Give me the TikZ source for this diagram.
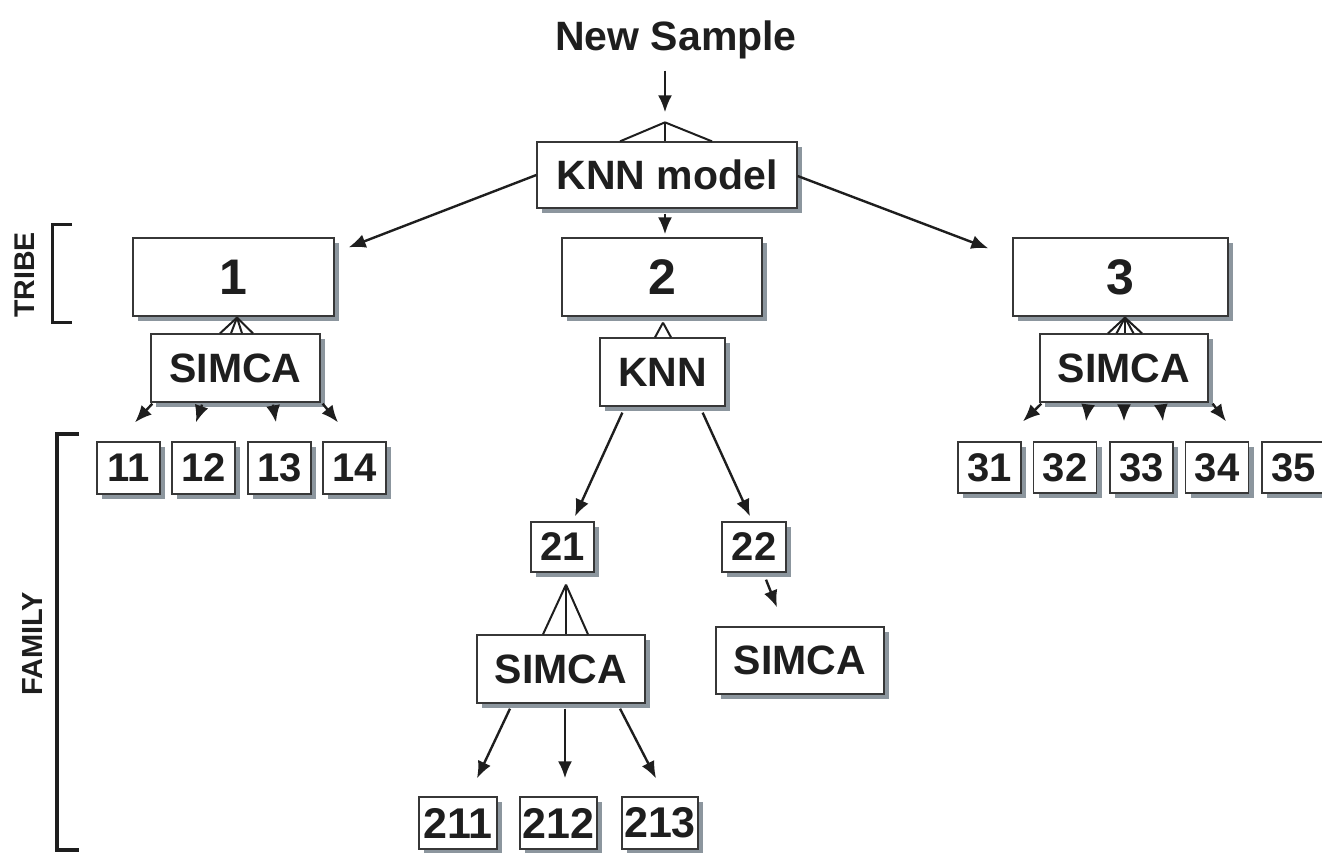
\documentclass[tikz,border=0pt]{standalone}
\usepackage{fontspec}
\setmainfont{Liberation Sans}
\usetikzlibrary{arrows.meta,calc,shadows}
\definecolor{ink}{RGB}{30,30,30}
\definecolor{boxline}{RGB}{55,55,55}
\definecolor{shade}{RGB}{140,150,158}
\tikzset{
  bx/.style={draw=boxline, line width=1.3pt, fill=white, inner sep=0pt, text=ink,
    general shadow={fill=shade, shadow xshift=5pt, shadow yshift=-5pt}},
  lbl/.style={font=\fontsize{41}{41}\selectfont\bfseries},
  big/.style={font=\fontsize{50}{50}\selectfont\bfseries},
  fam/.style={font=\fontsize{40}{40}\selectfont\bfseries},
  famw/.style={font=\fontsize{43}{43}\selectfont\bfseries},
  arr/.style={-{Latex[length=17pt,width=14pt]}, line width=2.4pt, draw=ink},
  fan/.style={line width=2pt, draw=ink},
  brk/.style={line width=3pt, draw=ink},
}
\begin{document}
\begin{tikzpicture}[x=1pt,y=-1pt]
\useasboundingbox (0,0) rectangle (1322,852);

% title and root model
\node[lbl, text=ink, anchor=base, inner sep=0pt] (ns) at (676,50) {New Sample};
\node[bx, lbl, minimum width=260pt, minimum height=66pt] (knnm) at (667,175) {KNN model};

% tribe level
\node[bx, big, minimum width=201pt, minimum height=78pt] (t1) at (233.5,277) {1};
\node[bx, big, minimum width=200pt, minimum height=78pt] (t2) at (662,277) {2};
\node[bx, big, minimum width=215pt, minimum height=78pt] (t3) at (1120.5,277) {3};

% classifiers under each tribe
\node[bx, lbl, minimum width=169pt, minimum height=68pt] (s1) at (235.5,368) {SIMCA};
\node[bx, lbl, minimum width=125pt, minimum height=68pt] (k2) at (662.5,372) {KNN};
\node[bx, lbl, minimum width=168pt, minimum height=68pt] (s3) at (1124,368) {SIMCA};

% family level, tribe 1
\foreach \n/\x in {11/128.5,12/203.5,13/279.5,14/354.5}
  \node[bx, fam, minimum width=63pt, minimum height=52pt] (f\n) at (\x,468) {\n};
% family level, tribe 3
\foreach \n/\x in {31/989.5,32/1065,33/1141.5,34/1217,35/1293.5}
  \node[bx, fam, minimum width=63pt, minimum height=51pt] (f\n) at (\x,467.5) {\n};
% family level, tribe 2
\node[bx, fam, minimum width=63pt, minimum height=50pt] (f21) at (562.5,547) {21};
\node[bx, fam, minimum width=64pt, minimum height=50pt] (f22) at (754,547) {22};
\node[bx, lbl, minimum width=168pt, minimum height=68pt] (s21) at (561,669) {SIMCA};
\node[bx, lbl, minimum width=168pt, minimum height=67pt] (s22) at (800,660.5) {SIMCA};
\node[bx, famw, minimum width=78pt, minimum height=52pt] (g211) at (458,823) {211};
\node[bx, famw, minimum width=77pt, minimum height=52pt] (g212) at (558.5,823) {212};
\node[bx, famw, minimum width=76pt, minimum height=52pt] (g213) at (660,823) {213};

% fans joining a model to its parent
\coordinate (a0) at ($(knnm.north)+(-2,-19)$);
\foreach \d in {-47,-2,45}
  \draw[fan] (a0) -- ($(knnm.north)+(\d,0)$);
\coordinate (a1) at ($(t1.south)+(3.5,1)$);
\foreach \d in {-15.5,-4.5,6.5,17.5}
  \draw[fan] (a1) -- ($(s1.north)+(\d,0)$);
\coordinate (a3) at ($(t3.south)+(4.5,1)$);
\foreach \d in {-16,-7.5,1,9.5,18}
  \draw[fan] (a3) -- ($(s3.north)+(\d,0)$);
\coordinate (a2) at ($(t2.south)+(1,6)$);
\foreach \d in {-7.5,8.5}
  \draw[fan] (a2) -- ($(k2.north)+(\d,0)$);
\coordinate (a21) at ($(f21.south)+(3.5,12)$);
\foreach \d in {-18,5,27}
  \draw[fan] (a21) -- ($(s21.north)+(\d,0)$);

% arrows
\draw[arr] ($(ns.south -| a0)+(0,12)$) -- ($(a0)+(0,-10)$);
\draw[arr] (knnm.west) -- ($(t1.north east)+(14,10)$);
\draw[arr] ($(knnm.east)+(0,1)$) -- ($(t3.north west)+(-24,11)$);
\draw[arr] ($(knnm.south)+(-2,5)$) -- ($(t2.north)+(3,-3)$);

\draw[arr] ($(s1.south west)+(2,1)$) -- ($(f11.north)+(6.5,-19)$);
\draw[arr] ($(s1.south)+(-33.5,2)$) -- ($(f12.north)+(-7.5,-19)$);
\draw[arr] ($(s1.south)+(37.5,2)$) -- ($(f13.north)+(-3.5,-19)$);
\draw[arr] ($(s1.south east)+(2,1)$) -- ($(f14.north)+(-16.5,-19)$);

\draw[arr] ($(s3.south west)+(2,1)$) -- ($(f31.north)+(33.5,-20)$);
\draw[arr] ($(s3.south)+(-36,3)$) -- ($(f32.north)+(21,-20)$);
\draw[arr] ($(s3.south)+(0,3)$) -- ($(f33.north)+(-17.5,-20)$);
\draw[arr] ($(s3.south)+(37,3)$) -- ($(f34.north)+(-54,-20)$);
\draw[arr] ($(s3.south east)+(4,1)$) -- ($(f35.north)+(-67.5,-20)$);

\draw[arr] ($(k2.south west)+(23,6)$) -- ($(f21.north)+(12.5,-5)$);
\draw[arr] ($(k2.south east)+(-23,6)$) -- ($(f22.north)+(-4,-5)$);
\draw[arr] ($(f22.south)+(12,7)$) -- ($(s22.north)+(-23,-19)$);

\draw[arr] ($(s21.south)+(-51,5)$) -- ($(g211.north)+(19,-18)$);
\draw[arr] ($(s21.south)+(4,5)$) -- ($(g212.north)+(6.5,-18)$);
\draw[arr] ($(s21.south)+(59,5)$) -- ($(g213.north)+(-4,-18)$);

% level brackets
\draw[brk] (72,224) -- (52,224) -- (52,322) -- (72,322);
\draw[brk, line width=3.5pt] (79,434) -- (57,434) -- (57,850) -- (79,850);
\node[font=\fontsize{28.5}{28.5}\selectfont\bfseries, text=ink, rotate=90, inner sep=0pt] (tribe) at (25,275) {TRIBE};
\node[font=\fontsize{29}{29}\selectfont\bfseries, text=ink, rotate=90, inner sep=0pt] (family) at (33,644) {FAMILY};
\end{tikzpicture}
\end{document}
